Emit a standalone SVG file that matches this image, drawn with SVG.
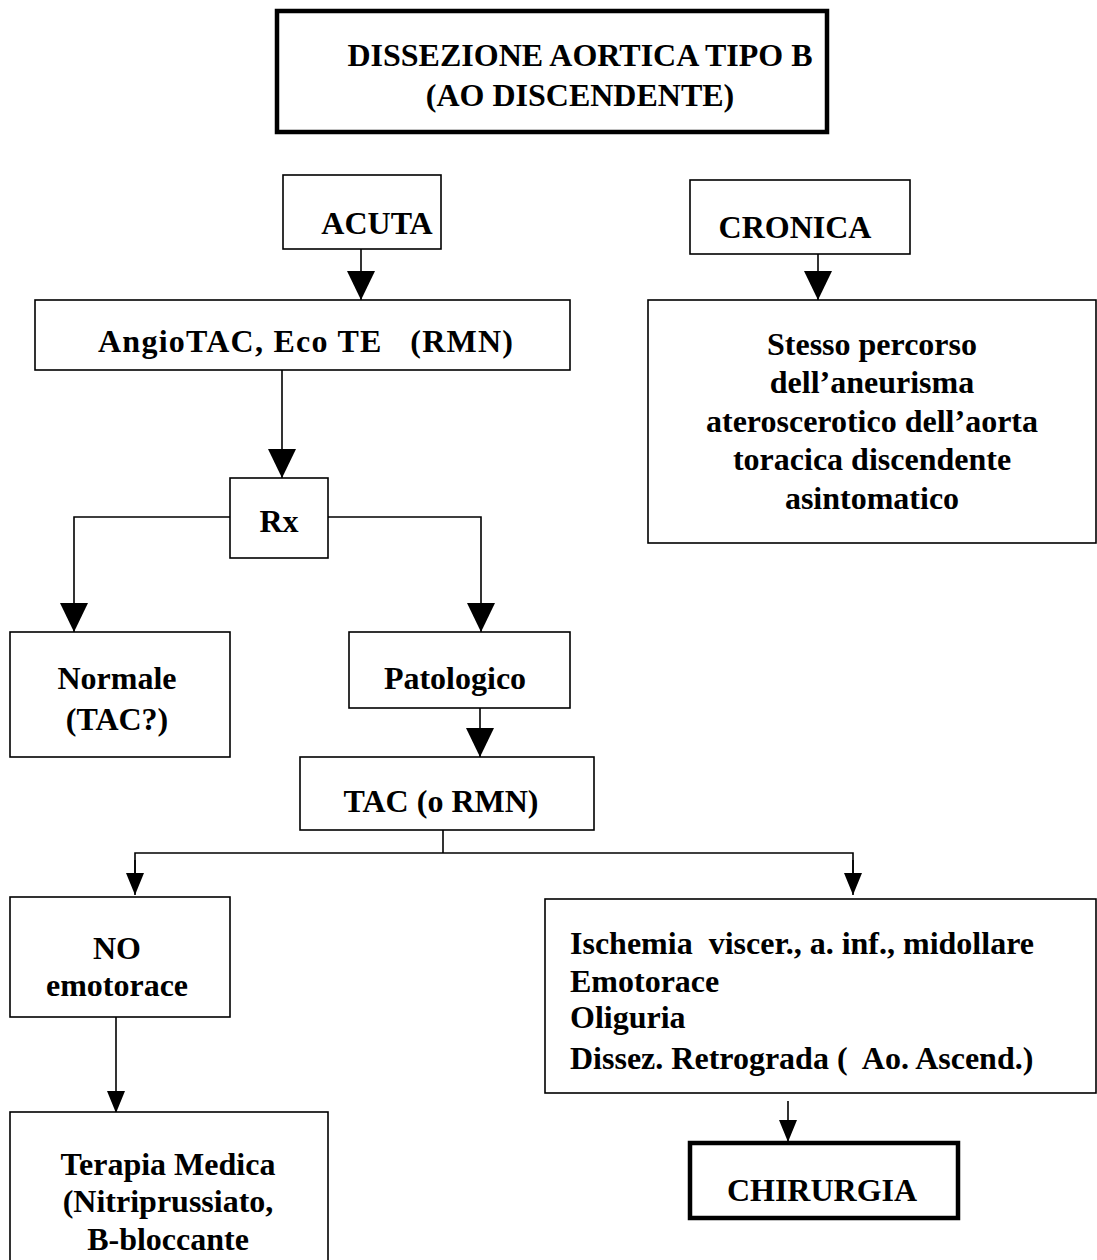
<svg xmlns="http://www.w3.org/2000/svg" width="1097" height="1260" viewBox="0 0 1097 1260">
<style>
text{font-family:"Liberation Serif","Times New Roman",serif;font-weight:bold;font-size:32px;fill:#000;white-space:pre}
.c{text-anchor:middle}
.box{fill:#fff;stroke:#000;stroke-width:1.6}
.thick{fill:#fff;stroke:#000;stroke-width:4.5}
.ln{fill:none;stroke:#000;stroke-width:1.6}
</style>
<defs>
<marker id="big" markerUnits="userSpaceOnUse" markerWidth="29" markerHeight="28" refX="29" refY="14" orient="auto" viewBox="0 0 29 28">
<path d="M0,0 L29,14 L0,28 Z" fill="#000"/>
</marker>
<marker id="small" markerUnits="userSpaceOnUse" markerWidth="22" markerHeight="18" refX="22" refY="9" orient="auto" viewBox="0 0 22 18">
<path d="M0,0 L22,9 L0,18 Z" fill="#000"/>
</marker>
</defs>
<rect width="1097" height="1260" fill="#fff"/>
<g id="connectors">
<line class="ln" x1="361" y1="249" x2="361" y2="300" marker-end="url(#big)"/>
<line class="ln" x1="818" y1="254" x2="818" y2="300" marker-end="url(#big)"/>
<line class="ln" x1="282" y1="370" x2="282" y2="478" marker-end="url(#big)"/>
<polyline class="ln" points="232,517 74,517 74,632" marker-end="url(#big)"/>
<polyline class="ln" points="326,517 481,517 481,632" marker-end="url(#big)"/>
<line class="ln" x1="480" y1="708" x2="480" y2="757" marker-end="url(#big)"/>
<line class="ln" x1="443" y1="830" x2="443" y2="853"/>
<polyline class="ln" points="135,880 135,853 853,853 853,880"/>
<line class="ln" x1="135" y1="860" x2="135" y2="895" marker-end="url(#small)"/>
<line class="ln" x1="853" y1="860" x2="853" y2="895" marker-end="url(#small)"/>
<line class="ln" x1="116" y1="1017" x2="116" y2="1113" marker-end="url(#small)"/>
<line class="ln" x1="788" y1="1101" x2="788" y2="1142" marker-end="url(#small)"/>
</g>
<g id="title">
<rect class="thick" x="277" y="11" width="550" height="121"/>
<text class="c" x="580" y="66">DISSEZIONE AORTICA TIPO B</text>
<text class="c" x="580" y="106">(AO DISCENDENTE)</text>
</g>
<g id="acuta">
<rect class="box" x="283" y="175" width="158" height="74"/>
<text class="c" x="377" y="234">ACUTA</text>
</g>
<g id="cronica">
<rect class="box" x="690" y="180" width="220" height="74"/>
<text class="c" x="795" y="238">CRONICA</text>
</g>
<g id="angiotac">
<rect class="box" x="35" y="300" width="535" height="70"/>
<text x="98" y="352" textLength="415" lengthAdjust="spacing">AngioTAC, Eco TE   (RMN)</text>
</g>
<g id="stesso">
<rect class="box" x="648" y="300" width="448" height="243"/>
<text class="c" x="872" y="355">Stesso percorso</text>
<text class="c" x="872" y="393">dell’aneurisma</text>
<text class="c" x="872" y="432">ateroscerotico dell’aorta</text>
<text class="c" x="872" y="470">toracica discendente</text>
<text class="c" x="872" y="509">asintomatico</text>
</g>
<g id="rx">
<rect class="box" x="230" y="478" width="98" height="80"/>
<text class="c" x="279" y="532">Rx</text>
</g>
<g id="normale">
<rect class="box" x="10" y="632" width="220" height="125"/>
<text class="c" x="117" y="689">Normale</text>
<text class="c" x="117" y="730">(TAC?)</text>
</g>
<g id="patologico">
<rect class="box" x="349" y="632" width="221" height="76"/>
<text class="c" x="455" y="689">Patologico</text>
</g>
<g id="tac">
<rect class="box" x="300" y="757" width="294" height="73"/>
<text class="c" x="441" y="812">TAC (o RMN)</text>
</g>
<g id="noemotorace">
<rect class="box" x="10" y="897" width="220" height="120"/>
<text class="c" x="117" y="959">NO</text>
<text class="c" x="117" y="996">emotorace</text>
</g>
<g id="ischemia">
<rect class="box" x="545" y="899" width="551" height="194"/>
<text x="570" y="954">Ischemia  viscer., a. inf., midollare</text>
<text x="570" y="992">Emotorace</text>
<text x="570" y="1028">Oliguria</text>
<text x="570" y="1069">Dissez. Retrograda (  Ao. Ascend.)</text>
</g>
<g id="terapia">
<rect class="box" x="10" y="1112" width="318" height="160"/>
<text class="c" x="168" y="1175">Terapia Medica</text>
<text class="c" x="168" y="1212">(Nitriprussiato,</text>
<text class="c" x="168" y="1250">B-bloccante</text>
</g>
<g id="chirurgia">
<rect class="thick" x="690" y="1143" width="268" height="75"/>
<text class="c" x="822" y="1201">CHIRURGIA</text>
</g>
</svg>
